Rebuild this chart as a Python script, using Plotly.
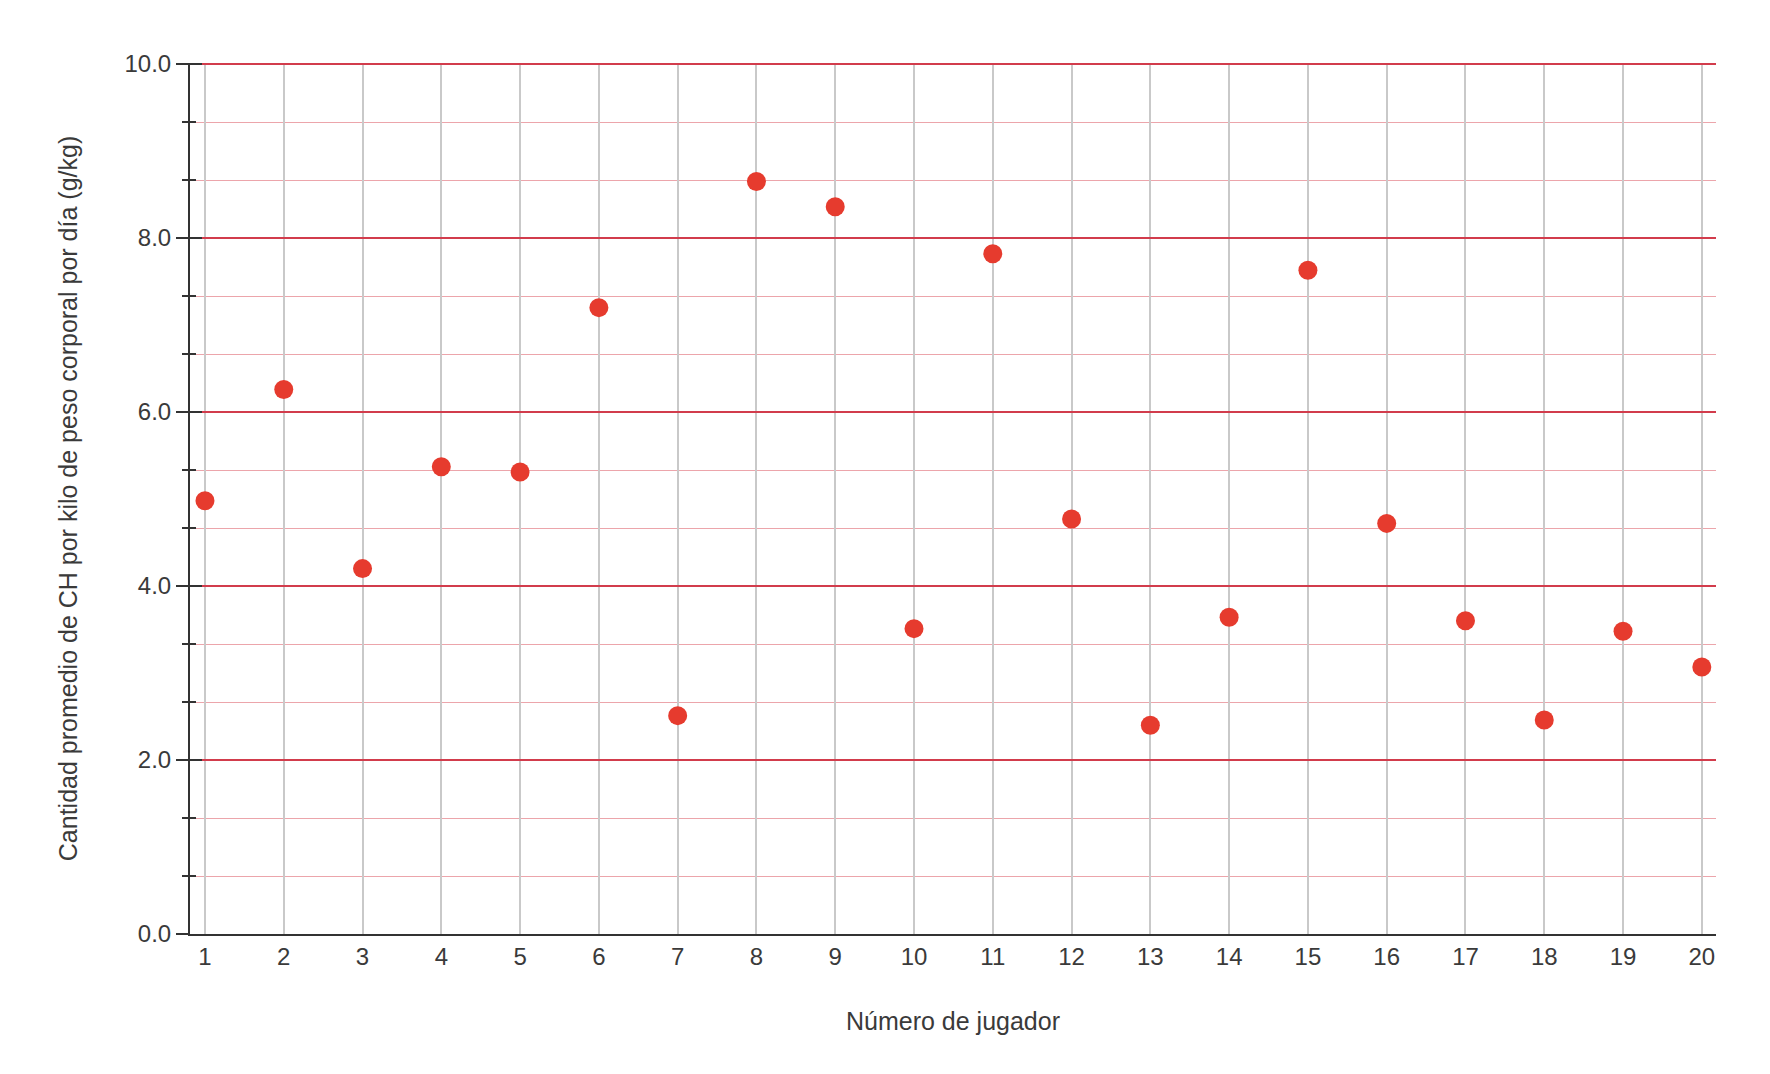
import plotly.graph_objects as go

jugadores = list(range(1, 21))
ch_g_kg = [4.98, 6.26, 4.20, 5.37, 5.31, 7.20, 2.51, 8.65, 8.36, 3.51,
           7.82, 4.77, 2.40, 3.64, 7.63, 4.72, 3.60, 2.46, 3.48, 3.07]
y_ticks = [0, 2, 4, 6, 8, 10]
y_tick_labels = ["0.0", "2.0", "4.0", "6.0", "8.0", "10.0"]

fig = go.Figure()
fig.add_trace(go.Scatter(
    x=jugadores, y=ch_g_kg, mode="markers",
    marker=dict(color="#e63b2e", size=19, line=dict(width=0)),
    showlegend=False, cliponaxis=False,
))
# invisible trace on overlay axis for inside ticks
fig.add_trace(go.Scatter(x=[jugadores[0]], y=[ch_g_kg[0]], yaxis="y2",
                         mode="markers", marker=dict(opacity=0), showlegend=False,
                         hoverinfo="skip"))

font_family = "Liberation Sans, Arial, sans-serif"
txt = "#3a3a3a"
yr = [0, 10.012]
fig.update_layout(
    width=1770, height=1074,
    margin=dict(l=182, r=62, t=55, b=148),
    plot_bgcolor="white", paper_bgcolor="white",
    font=dict(family=font_family, color=txt, size=24),
    xaxis=dict(
        range=[0.81, 20.18],
        tickmode="array", tickvals=jugadores, ticktext=[str(j) for j in jugadores],
        showgrid=True, gridcolor="#c9c9c9", gridwidth=1.5,
        showline=True, linecolor="#333333", linewidth=2,
        ticks="", zeroline=False,
        tickfont=dict(size=24, color=txt),
        title=dict(text="Número de jugador", font=dict(size=25, color=txt), standoff=44),
    ),
    yaxis=dict(
        range=yr,
        tickmode="array", tickvals=y_ticks, ticktext=y_tick_labels,
        showgrid=True, gridcolor="#d23c4c", gridwidth=1.5,
        showline=True, linecolor="#333333", linewidth=2,
        ticks="outside", ticklen=12, tickwidth=2, tickcolor="#333333",
        zeroline=False,
        minor=dict(dtick=2/3, tick0=0, showgrid=True, gridcolor="#eca5ab", gridwidth=1.2,
                   ticks="outside", ticklen=6, tickwidth=2, tickcolor="#333333"),
        tickfont=dict(size=24, color=txt),
        title=dict(text="Cantidad promedio de CH por kilo de peso corporal por día (g/kg)",
                   font=dict(size=25, color=txt), standoff=40),
    ),
    yaxis2=dict(
        range=yr, overlaying="y", side="left",
        tickmode="array", tickvals=y_ticks, showticklabels=False,
        showgrid=False, zeroline=False, showline=False,
        ticks="inside", ticklen=12, tickwidth=2, tickcolor="#333333",
        minor=dict(dtick=2/3, tick0=0, ticks="inside", ticklen=6, tickwidth=2,
                   tickcolor="#333333", showgrid=False),
    ),
)

fig.write_html("out.html")
